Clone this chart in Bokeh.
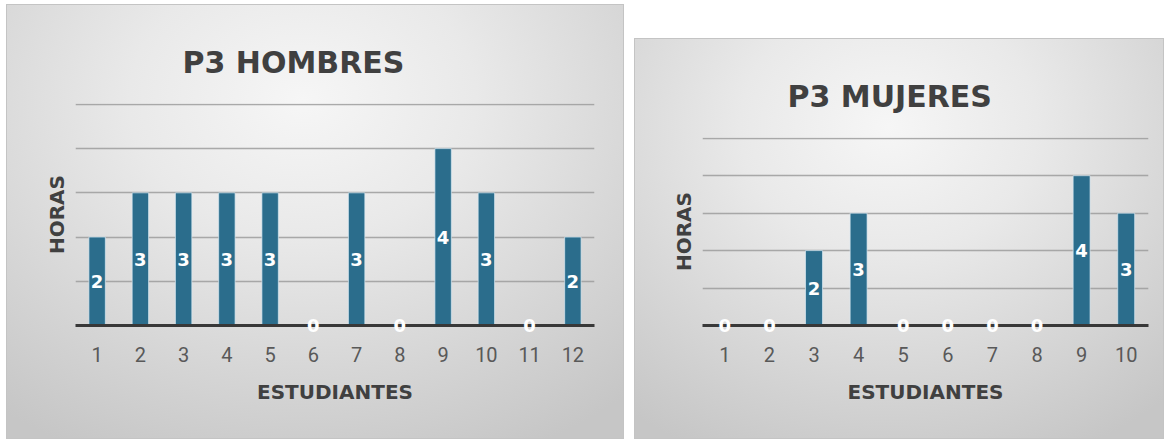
from bokeh.plotting import figure
from bokeh.models import Range1d, FixedTicker, ColumnDataSource
from bokeh.layouts import row
from bokeh.embed import file_html
from bokeh.resources import INLINE
from bokeh.core.properties import value

# ---- data ----
hombres_title = "P3 HOMBRES"
hombres_est = [1, 2, 3, 4, 5, 6, 7, 8, 9, 10, 11, 12]
hombres_horas = [2, 3, 3, 3, 3, 0, 3, 0, 4, 3, 0, 2]

mujeres_title = "P3 MUJERES"
mujeres_est = [1, 2, 3, 4, 5, 6, 7, 8, 9, 10]
mujeres_horas = [0, 0, 2, 3, 0, 0, 0, 0, 4, 3]

y_ticks = [0, 1, 2, 3, 4, 5]
x_label = "ESTUDIANTES"
y_label = "HORAS"

BAR = "#2b6d8c"
DARK = "#404040"
BG = ("radial-gradient(ellipse 80% 90% at 48% 22%, #f6f6f6 0%, #e9e9e9 35%, "
      "#d6d6d6 70%, #c6c6c6 100%)")


def make_panel(title, xs, ys, width, height, bl, br, bt, bb, title_offset):
    p = figure(width=width, height=height, output_backend="svg",
               toolbar_location=None, title=title,
               x_range=Range1d(0.5, len(xs) + 0.5), y_range=Range1d(0, 5.02),
               min_border_left=bl, min_border_right=br,
               min_border_top=bt, min_border_bottom=bb)
    p.background_fill_alpha = 0
    p.border_fill_alpha = 0
    p.outline_line_color = None
    p.styles = {"background": BG, "box-shadow": "inset 0 0 0 1px #c4c4c4"}

    # title
    p.title.align = "left"
    p.title.offset = title_offset
    p.title.text_font = "DejaVu Sans"
    p.title.text_font_style = "bold"
    p.title.text_font_size = "30px"
    p.title.text_color = DARK
    p.title.standoff = 47

    # grid
    p.xgrid.visible = False
    p.ygrid.ticker = FixedTicker(ticks=y_ticks)
    p.ygrid.grid_line_color = "#9c9c9c"
    p.ygrid.grid_line_width = 1.6
    p.ygrid.grid_line_alpha = 0.85

    # y axis (label only, no tick labels as in the reference)
    p.yaxis.ticker = FixedTicker(ticks=[])
    p.yaxis.axis_line_color = None
    p.yaxis.major_tick_line_color = None
    p.yaxis.minor_tick_line_color = None
    p.yaxis.major_tick_out = 0
    p.yaxis.major_label_standoff = 0
    p.yaxis.axis_label = y_label
    p.yaxis.axis_label_text_font = "DejaVu Sans"
    p.yaxis.axis_label_text_font_style = "bold"
    p.yaxis.axis_label_text_font_size = "20px"
    p.yaxis.axis_label_text_color = DARK
    p.yaxis.axis_label_standoff = 7

    # x axis (baseline + category numbers)
    p.xaxis.ticker = FixedTicker(ticks=xs)
    p.xaxis.axis_line_color = "#383838"
    p.xaxis.axis_line_width = 3
    p.xaxis.major_tick_line_color = None
    p.xaxis.minor_tick_line_color = None
    p.xaxis.major_tick_out = 0
    p.xaxis.major_tick_in = 0
    p.xaxis.major_label_text_font = "Roboto"
    p.xaxis.major_label_text_font_size = "20px"
    p.xaxis.major_label_text_color = "#595959"
    p.xaxis.major_label_standoff = 21
    p.xaxis.axis_label = x_label
    p.xaxis.axis_label_text_font = "DejaVu Sans"
    p.xaxis.axis_label_text_font_style = "bold"
    p.xaxis.axis_label_text_font_size = "20px"
    p.xaxis.axis_label_text_color = DARK
    p.xaxis.axis_label_standoff = 15

    src = ColumnDataSource(dict(
        x=xs, top=ys, mid=[v / 2 for v in ys], lab=[str(v) for v in ys]))
    p.vbar(x="x", top="top", width=0.38, source=src, fill_color=BAR,
           line_color="#d8eaf4", line_width=1, line_alpha=0.7)
    r = p.text(x="x", y="mid", text="lab", source=src, text_color="white",
               text_font=value("DejaVu Sans"), text_font_style="bold",
               text_font_size="18px", text_align="center",
               text_baseline="middle")
    r.level = "overlay"
    return p


p1 = make_panel(hombres_title, hombres_est, hombres_horas, 618, 435,
                69, 30, 98, 114, 107)
p1.margin = (4, 0, 0, 6)
p2 = make_panel(mujeres_title, mujeres_est, mujeres_horas, 530, 401,
                68, 16, 99, 114, 85)
p2.margin = (38, 0, 0, 10)

layout = row(p1, p2)
open("out.html", "w").write(file_html(layout, INLINE))
